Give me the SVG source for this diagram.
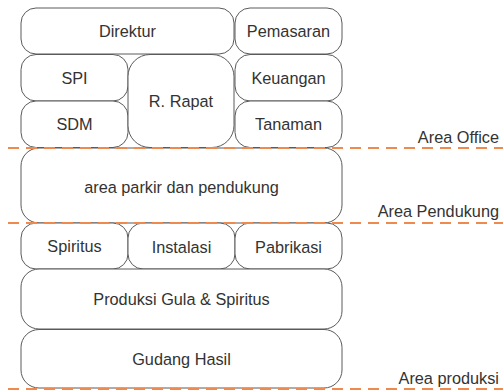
<svg xmlns="http://www.w3.org/2000/svg" width="503" height="390" viewBox="0 0 503 390">
<style>
.box{fill:#fff;stroke:#5a5a5a;stroke-width:1}
.lbl{font-family:"Liberation Sans",Arial,sans-serif;font-size:16.3px;fill:#333;text-anchor:middle}
.area{font-family:"Liberation Sans",Arial,sans-serif;font-size:16.3px;fill:#333;text-anchor:end}
.dash{stroke:#ef8a4f;stroke-width:2.2;stroke-dasharray:11 7;fill:none}
</style>
<rect width="503" height="390" fill="#fff"/>
<g id="direktur"><rect class="box" x="21" y="8" width="213" height="46" rx="15"/><text class="lbl" x="127.5" y="37">Direktur</text></g>
<g id="pemasaran"><rect class="box" x="235" y="8" width="107" height="46" rx="15"/><text class="lbl" x="288.5" y="37">Pemasaran</text></g>
<g id="spi"><rect class="box" x="21" y="54.5" width="107" height="46.5" rx="15"/><text class="lbl" x="74.5" y="84">SPI</text></g>
<g id="sdm"><rect class="box" x="21" y="101" width="107" height="46.5" rx="15"/><text class="lbl" x="74.5" y="130">SDM</text></g>
<g id="rapat"><rect class="box" x="128" y="54.5" width="106" height="93" rx="22"/><text class="lbl" x="181" y="107">R. Rapat</text></g>
<g id="keuangan"><rect class="box" x="235" y="54.5" width="107" height="46.5" rx="15"/><text class="lbl" x="288.5" y="84">Keuangan</text></g>
<g id="tanaman"><rect class="box" x="235" y="101" width="107" height="46.5" rx="15"/><text class="lbl" x="288.5" y="130">Tanaman</text></g>
<g id="parkir"><rect class="box" x="21" y="148" width="321" height="75" rx="18"/><text class="lbl" x="181.5" y="192.5">area parkir dan pendukung</text></g>
<g id="spiritus"><rect class="box" x="21" y="223" width="107" height="46" rx="15"/><text class="lbl" x="74.5" y="252">Spiritus</text></g>
<g id="instalasi"><rect class="box" x="128" y="223" width="107" height="46" rx="15"/><text class="lbl" x="181.5" y="253">Instalasi</text></g>
<g id="pabrikasi"><rect class="box" x="235" y="223" width="107" height="46" rx="15"/><text class="lbl" x="288.5" y="253">Pabrikasi</text></g>
<g id="produksi"><rect class="box" x="21" y="269" width="321" height="60" rx="18"/><text class="lbl" x="181.5" y="305">Produksi Gula &amp; Spiritus</text></g>
<g id="gudang"><rect class="box" x="21" y="329.5" width="321" height="58.5" rx="18"/><text class="lbl" x="181.5" y="365">Gudang Hasil</text></g>
<g id="connectors">
<line class="dash" x1="8" y1="148" x2="503" y2="148"/>
<line class="dash" x1="8" y1="223" x2="503" y2="223"/>
<line class="dash" x1="8" y1="389" x2="503" y2="389"/>
</g>
<g id="labels">
<text class="area" x="499" y="143">Area Office</text>
<text class="area" x="499" y="217">Area Pendukung</text>
<text class="area" x="499" y="384">Area produksi</text>
</g>
</svg>
